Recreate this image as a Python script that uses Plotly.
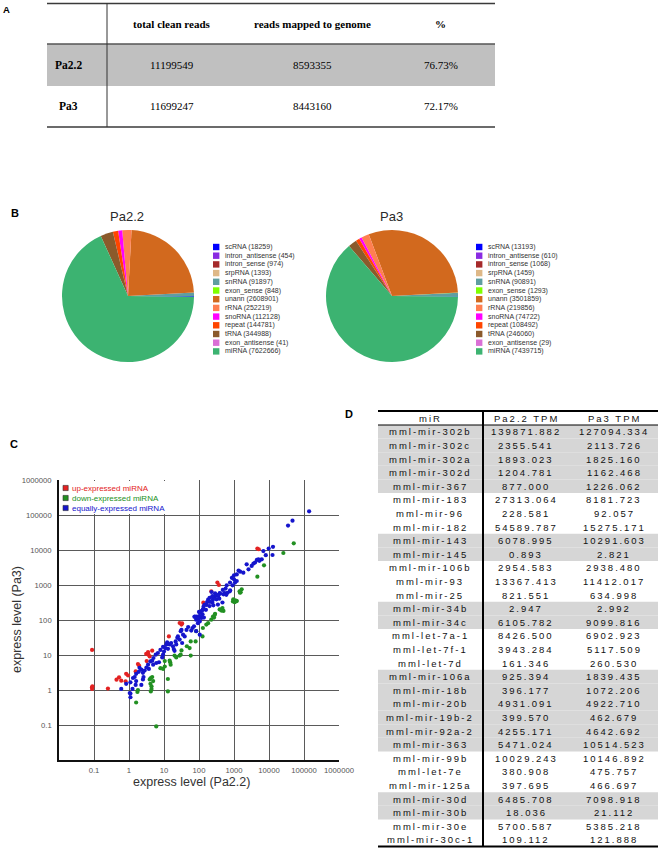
import plotly.graph_objects as go

W, H = 662, 854

# ---------------- Panel A data ----------------
a_columns = ["total clean reads", "reads mapped to genome", "%"]
a_samples = ["Pa2.2", "Pa3"]
a_clean_reads = [11199549, 11699247]
a_mapped_reads = [8593355, 8443160]
a_mapped_pct = ["76.73%", "72.17%"]

# ---------------- Panel B data ----------------
rna_types = ["scRNA", "intron_antisense", "intron_sense", "srpRNA", "snRNA", "exon_sense",
             "unann", "rRNA", "snoRNA", "repeat", "tRNA", "exon_antisense", "miRNA"]
pa22_counts = [18259, 454, 974, 1393, 91897, 848, 2608901, 252219, 112128, 144781, 344988, 41, 7622666]
pa3_counts = [13193, 610, 1068, 1459, 90891, 1293, 3501859, 219856, 74722, 108492, 246060, 29, 7439715]
rna_colors = ["#0000ff", "#8a2be2", "#a52a2a", "#deb887", "#5f9ea0", "#7fff00",
              "#d2691e", "#ff7f50", "#ff00ff", "#ff4500", "#8b5a2b", "#da70d6", "#3cb371"]
pie_titles = ["Pa2.2", "Pa3"]

# ---------------- Panel C data (Pa2.2 TPM, Pa3 TPM) ----------------
up_points = [(0.088, 14), (0.088, 1.2), (0.088, 1.07), (0.09, 1.27), (0.25, 1.1), (0.44, 1.97),
             (0.52, 2.3), (0.6, 1.85), (0.8, 1.77), (0.83, 2.9), (0.94, 2.6), (1.55, 3.4),
             (1.8, 5.5), (1.94, 5.0), (3.1, 10.7), (3.5, 12.2), (4.6, 13.3), (3.6, 10.2),
             (3.2, 6.7), (3.9, 9.1), (13.8, 34), (28, 82), (31.5, 74), (33, 80), (133, 313),
             (224, 660), (335, 1170), (370, 1000), (4650, 11000), (5100, 10500)]
down_points = [(51000, 15500), (25700, 8200), (7200, 3640), (4650, 1730), (1660, 750), (1480, 600),
               (1070, 363), (1200, 347), (955, 390), (447, 200), (500, 182), (269, 117), (288, 151),
               (6.0, 0.091), (1.6, 0.44), (1.74, 0.88), (1.8, 1.0), (4.2, 0.91), (4.4, 1.07),
               (4.4, 1.27), (4.1, 1.5), (3.9, 2.0), (4.9, 1.8), (4.6, 2.35), (4.2, 2.2),
               (12.9, 0.91), (12.9, 2.06), (7.9, 4.2), (9.4, 4.0), (10.5, 4.7), (15, 6.2),
               (14.5, 6.9), (10.5, 6.7), (15.5, 5.3), (20, 9.6), (22.4, 8.5), (30, 10.2),
               (28, 9.6), (31.6, 13.5), (45, 17.8), (54, 15.8), (58, 24.5), (58, 9.6), (80, 24.5),
               (83, 48), (129, 59), (126, 34), (162, 74), (182, 81), (224, 102), (251, 126),
               (282, 141), (389, 200), (436, 186), (468, 219), (933, 339), (1047, 324),
               (1175, 355), (1550, 617), (1445, 661)]
equal_points = [(0.60, 1.07), (0.83, 1.5), (1.05, 0.82), (1.1, 0.62), (1.26, 1.07), (1.1, 1.66),
                (1.3, 2.2), (1.45, 2.35), (1.6, 2.9), (1.9, 3.3), (2.25, 3.8), (2.5, 3.1),
                (2.6, 2.35), (2.8, 3.6), (3.15, 4.4), (3.5, 5.3), (4.1, 6.6), (4.6, 6.9),
                (5.0, 8.2), (5.8, 10.2), (6.7, 11.4), (7.9, 14), (9.4, 17), (7.2, 6.2), (6.0, 5.9),
                (9.4, 10.2), (10, 12.6), (11, 15.8), (11.7, 20), (12.3, 23), (14.5, 20), (16, 22),
                (18, 17.8), (19, 14.8), (20, 13.2), (22.4, 20), (21.5, 24.5), (24, 31), (25, 34),
                (28, 27.5), (30, 48), (31.6, 52), (35, 38), (39, 34), (33, 22), (44, 52), (49, 63),
                (65, 59), (72, 66), (76, 126), (83, 102), (93, 81), (100, 170), (105, 126),
                (117, 115), (129, 200), (135, 245), (145, 275), (170, 325), (182, 380), (200, 427),
                (240, 480), (250, 380), (282, 457), (316, 525), (347, 500), (390, 590), (468, 316),
                (347, 275), (537, 590), (603, 525), (759, 661), (60, 50), (83, 48), (105, 38),
                (105, 91), (13, 15), (8.9, 8.5), (2.0, 4.3), (4.9, 5.3), (3.7, 4.0), (2.5, 2.0),
                (2.25, 1.4), (1.6, 1.8), (1.55, 1.4), (1.1, 0.79),
                (139871.882, 127094.334), (47000, 69000), (35000, 50000), (13000, 12300),
                (9800, 11000), (12600, 7200), (8100, 7100), (6900, 9300), (6200, 5400), (5300, 4900),
                (4500, 5200), (4000, 4400), (3600, 4100), (3200, 3500), (5000, 5400), (2600, 2800),
                (2300, 3900), (1850, 2250), (1500, 2400), (1350, 2600), (1200, 2000), (1000, 1900),
                (870, 1600), (1000, 1450), (770, 1170), (1200, 1300), (1070, 1170), (910, 980),
                (620, 980), (575, 790), (650, 600), (500, 540), (400, 565), (355, 490), (288, 575),
                (245, 455), (316, 390), (240, 315), (257, 263), (200, 250), (166, 269), (158, 195),
                (132, 200), (120, 182), (126, 145), (107, 162), (102, 129), (85, 126), (74, 123),
                (95, 110), (138, 117), (204, 331), (380, 407), (229, 631), (479, 724), (776, 708)]
series_names = ["up-expressed miRNA", "down-expressed miRNA", "equally-expressed miRNA"]
series_colors = ["#e32222", "#229022", "#1515cc"]
axis_ticks = [0.1, 1, 10, 100, 1000, 10000, 100000, 1000000]
axis_ticktext = ["0.1", "1", "10", "100", "1000", "10000", "100000", "1000000"]

# ---------------- Panel D data ----------------
d_columns = ["miR", "Pa2.2 TPM", "Pa3 TPM"]
mir_names = ["mml-mir-302b", "mml-mir-302c", "mml-mir-302a", "mml-mir-302d", "mml-mir-367",
             "mml-mir-183", "mml-mir-96", "mml-mir-182", "mml-mir-143", "mml-mir-145",
             "mml-mir-106b", "mml-mir-93", "mml-mir-25", "mml-mir-34b", "mml-mir-34c",
             "mml-let-7a-1", "mml-let-7f-1", "mml-let-7d", "mml-mir-106a", "mml-mir-18b",
             "mml-mir-20b", "mml-mir-19b-2", "mml-mir-92a-2", "mml-mir-363", "mml-mir-99b",
             "mml-let-7e", "mml-mir-125a", "mml-mir-30d", "mml-mir-30b", "mml-mir-30e", "mml-mir-30c-1"]
pa22_tpm = [139871.882, 2355.541, 1893.023, 1204.781, 877.000, 27313.064, 228.581, 54589.787,
            6078.995, 0.893, 2954.583, 13367.413, 821.551, 2.947, 6105.782, 8426.500, 3943.284,
            161.346, 925.394, 396.177, 4931.091, 399.570, 4255.171, 5471.024, 10029.243, 380.908,
            397.695, 6485.708, 18.036, 5700.587, 109.112]
pa3_tpm = [127094.334, 2113.726, 1825.160, 1162.468, 1226.062, 8181.723, 92.057, 15275.171,
           10291.603, 2.821, 2938.480, 11412.017, 634.998, 2.992, 9099.816, 6902.923, 5117.509,
           260.530, 1839.435, 1072.206, 4922.710, 462.679, 4642.692, 10514.523, 10146.892,
           475.757, 466.697, 7098.918, 21.112, 5385.218, 121.888]
mir_cluster = [0, 0, 0, 0, 0, 1, 1, 1, 2, 2, 3, 3, 3, 4, 4, 5, 5, 5, 6, 6, 6, 6, 6, 6, 7, 7, 7, 8, 8, 9, 9]

SANS = "Liberation Sans, Arial, sans-serif"
SERIF = "Liberation Serif, Times New Roman, serif"


def fx(x):
    return x / W


def fy(y):
    return 1 - y / H


fig = go.Figure()
shapes = []
annos = []


def text(x, y, s, size, color="#000", family=SANS, xanchor="center", yanchor="middle", angle=0):
    annos.append(dict(x=fx(x), y=fy(y), xref="paper", yref="paper", text=s, showarrow=False,
                      xanchor=xanchor, yanchor=yanchor, textangle=angle,
                      font=dict(size=size, color=color, family=family)))


def hline(x0, x1, y, color, width):
    shapes.append(dict(type="line", xref="paper", yref="paper", x0=fx(x0), x1=fx(x1),
                       y0=fy(y), y1=fy(y), line=dict(color=color, width=width)))


def vline(x, y0, y1, color, width):
    shapes.append(dict(type="line", xref="paper", yref="paper", x0=fx(x), x1=fx(x),
                       y0=fy(y0), y1=fy(y1), line=dict(color=color, width=width)))


def rect(x0, y0, x1, y1, fill, layer="below", lw=0, lc=None):
    shapes.append(dict(type="rect", xref="paper", yref="paper", x0=fx(x0), x1=fx(x1),
                       y0=fy(y1), y1=fy(y0), fillcolor=fill, layer=layer,
                       line=dict(width=lw, color=lc or fill)))


# ---------------- Panel A: table ----------------
A_left, A_right, A_div = 47, 495, 107
A_rows = [3.5, 44, 86, 127]
A_col_x = [68, 172, 312, 441]
rect(A_left, A_rows[1], A_right, A_rows[2], "#c0c0c0")
hline(A_left, A_right, A_rows[0], "#3a3a3a", 1.6)
hline(A_left, A_right, A_rows[1], "#555555", 1.6)
hline(A_left, A_right, A_rows[3], "#3a3a3a", 1.6)
vline(A_div, A_rows[0], A_rows[3], "#333333", 1)
for c, name in enumerate(a_columns):
    text(A_col_x[c + 1], (A_rows[0] + A_rows[1]) / 2, "<b>%s</b>" % name, 11, family=SERIF)
for r, s in enumerate(a_samples):
    yc = (A_rows[r + 1] + A_rows[r + 2]) / 2
    text(A_col_x[0], yc, "<b>%s</b>" % s, 11.5, family=SERIF)
    text(A_col_x[1], yc, str(a_clean_reads[r]), 11, family=SERIF)
    text(A_col_x[2], yc, str(a_mapped_reads[r]), 11, family=SERIF)
    text(A_col_x[3], yc, a_mapped_pct[r], 11, family=SERIF)
text(6, 9, "<b>A</b>", 9.5)

# ---------------- Panel B: pies ----------------
pie_centers = [(128, 296), (392, 296)]
pie_r = 66
legend_x = [213, 476]
for k, counts in enumerate([pa22_counts, pa3_counts]):
    cx, cy = pie_centers[k]
    fig.add_trace(go.Pie(labels=rna_types, values=counts, sort=False, direction="counterclockwise",
                         rotation=90, textinfo="none", showlegend=False, automargin=False,
                         marker=dict(colors=rna_colors, line=dict(width=0)),
                         domain=dict(x=[fx(cx - pie_r), fx(cx + pie_r)], y=[fy(cy + pie_r), fy(cy - pie_r)])))
    text(cx - 1, 217, pie_titles[k], 13, color="#2a2a2a")
    for i, (name, v) in enumerate(zip(rna_types, counts)):
        yc = 247 + i * 8.7
        rect(legend_x[k], yc - 3.2, legend_x[k] + 6.4, yc + 3.2, rna_colors[i], layer="above")
        text(legend_x[k] + 10, yc, "%s (%d)" % (name, v), 7, color="#333333", xanchor="left")
text(15, 213, "<b>B</b>", 11)

# ---------------- Panel C: scatter ----------------
C_left, C_right, C_top, C_bottom = 59, 339, 480, 760
for name, color, pts in zip(series_names, series_colors, [up_points, down_points, equal_points]):
    fig.add_trace(go.Scatter(x=[p[0] for p in pts], y=[p[1] for p in pts], mode="markers",
                             name=name, showlegend=False,
                             marker=dict(color=color, size=4.2, line=dict(width=0))))
axis_common = dict(type="log", range=[-2, 6], tickvals=axis_ticks, ticktext=axis_ticktext,
                   showgrid=True, gridcolor="#5a5a5a", gridwidth=1.3, showline=True,
                   linecolor="#111111", linewidth=1.6, ticks="", zeroline=False, automargin=False,
                   tickfont=dict(size=7.7, color="#555555", family=SANS))
fig.update_layout(
    xaxis=dict(domain=[fx(C_left), fx(C_right)], anchor="y", ticklabelstandoff=2, **axis_common),
    yaxis=dict(domain=[fy(C_bottom), fy(C_top)], anchor="x", ticklabelstandoff=4, **axis_common),
)
rect(C_left + 1.2, C_top + 1, 166, 514, "white", layer="above")
for i, (name, color) in enumerate(zip(series_names, series_colors)):
    yc = 488 + i * 10
    rect(63, yc - 2.6, 68.2, yc + 2.6, color, layer="above", lw=0.6, lc="#333333")
    text(70, yc, name, 8, color=color, xanchor="left")
text((C_left + C_right) / 2 - 8, 782, "express level (Pa2.2)", 12.5, color="#333333")
text(17, (C_top + C_bottom) / 2, "express level (Pa3)", 12.5, color="#333333", angle=-90)
text(14, 444, "<b>C</b>", 11)

# ---------------- Panel D: table ----------------
D_left, D_right, D_div = 378, 658, 483
D_col_x = [430, 526, 614]
D_top, D_head, D_row_h = 411, 425, 13.6
D_bottom = D_head + D_row_h * len(mir_names)
SP = '<span style="letter-spacing:2px">%s</span>'
for r, name in enumerate(mir_names):
    y0 = D_head + r * D_row_h
    if mir_cluster[r] % 2 == 0:
        rect(D_left, y0, D_right, y0 + D_row_h, "#d6d6d6")
    yc = y0 + D_row_h / 2
    text(D_col_x[0], yc, SP % name, 9.5, color="#111111")
    text(D_col_x[1], yc, SP % ("%.3f" % pa22_tpm[r]), 9.5, color="#111111")
    text(D_col_x[2], yc, SP % ("%.3f" % pa3_tpm[r]), 9.5, color="#111111")
for c, name in enumerate(d_columns):
    text(D_col_x[c], (D_top + D_head) / 2, SP % name, 9.5, color="#111111")
hline(D_left, D_right, D_top, "#000000", 2)
hline(D_left, D_right, D_head, "#000000", 1)
hline(D_left, D_right, D_bottom, "#000000", 2)
vline(D_div, D_top, D_bottom, "#000000", 2)
text(349, 414, "<b>D</b>", 11)

fig.update_layout(template="none", width=W, height=H, autosize=False,
                  margin=dict(l=0, r=0, t=0, b=0, pad=0),
                  paper_bgcolor="white", plot_bgcolor="white",
                  shapes=shapes, annotations=annos, showlegend=False)

fig.write_html("out.html", config={"responsive": False, "displayModeBar": False},
               post_script="document.body.style.margin='0';document.body.style.overflow='hidden';")
